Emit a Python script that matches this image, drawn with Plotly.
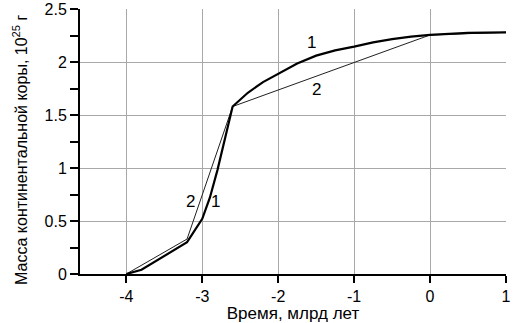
import plotly.graph_objects as go

# Curve 1 (thick): mass of continental crust, model 1
t1 = [-4.0, -3.8, -3.2, -3.0, -2.9, -2.8, -2.6, -2.4, -2.2, -2.0, -1.75, -1.5,
      -1.25, -1.0, -0.75, -0.5, -0.25, 0.0, 0.5, 1.0]
m1 = [0.0, 0.04, 0.30, 0.52, 0.72, 0.98, 1.58, 1.71, 1.81, 1.89, 1.985, 2.06,
      2.11, 2.145, 2.185, 2.215, 2.24, 2.255, 2.275, 2.28]

# Curve 2 (thin): piecewise model 2
t2 = [-4.0, -3.2, -2.6, 0.0, 1.0]
m2 = [0.0, 0.33, 1.58, 2.255, 2.28]

# Curve labels
lab_x = [-1.56, -1.49, -3.16, -2.83]
lab_y = [2.18, 1.74, 0.68, 0.68]
lab_t = ["1", "2", "2", "1"]

xticks = [-4, -3, -2, -1, 0, 1]
yticks = [0, 0.5, 1, 1.5, 2, 2.5]
ytick_text = ["0", "0.5", "1", "1.5", "2", "2.5"]

FONT = "Liberation Sans, Arial, sans-serif"

fig = go.Figure()
fig.add_trace(go.Scatter(x=t2, y=m2, mode="lines",
                         line=dict(color="#202020", width=1), showlegend=False,
                         hoverinfo="skip"))
fig.add_trace(go.Scatter(x=t1, y=m1, mode="lines",
                         line=dict(color="black", width=2.2), showlegend=False,
                         hoverinfo="skip"))

for x, y, t in zip(lab_x, lab_y, lab_t):
    fig.add_annotation(x=x, y=y, text=t, showarrow=False,
                       font=dict(family=FONT, size=17, color="black"))

# y-axis title as a rotated annotation for precise placement
fig.add_annotation(xref="paper", yref="paper", x=-0.141, y=0.468,
                   xanchor="center", yanchor="middle",
                   text="Масса континентальной коры, 10<sup>25</sup> г",
                   textangle=-90, showarrow=False,
                   font=dict(family=FONT, size=16, color="black"))

fig.update_layout(
    width=514, height=323,
    margin=dict(l=80, r=8, t=9, b=49),
    paper_bgcolor="white", plot_bgcolor="white",
    font=dict(family=FONT, size=16, color="black"),
)
fig.update_xaxes(
    range=[-4.61, 1.0], tickvals=xticks, ticktext=[str(v) for v in xticks],
    showgrid=True, gridcolor="#a8a8a8", gridwidth=1,
    showline=True, linecolor="black", linewidth=2,
    ticks="outside", ticklen=7, tickwidth=2, tickcolor="black",
    zeroline=False, automargin=False,
    title=dict(text="Время, млрд лет", font=dict(size=17), standoff=0),
    tickfont=dict(size=16),
)
fig.update_yaxes(
    range=[0, 2.5], tickvals=yticks, ticktext=ytick_text,
    showgrid=True, gridcolor="#a8a8a8", gridwidth=1,
    showline=True, linecolor="black", linewidth=2,
    ticks="outside", ticklen=8, tickwidth=1.5, tickcolor="black",
    minor=dict(dtick=0.25, tick0=0, ticks="outside", ticklen=8, tickwidth=1.5,
               tickcolor="black", showgrid=False),
    zeroline=False, automargin=False,
    tickfont=dict(size=16),
)

fig.write_html("out.html")
